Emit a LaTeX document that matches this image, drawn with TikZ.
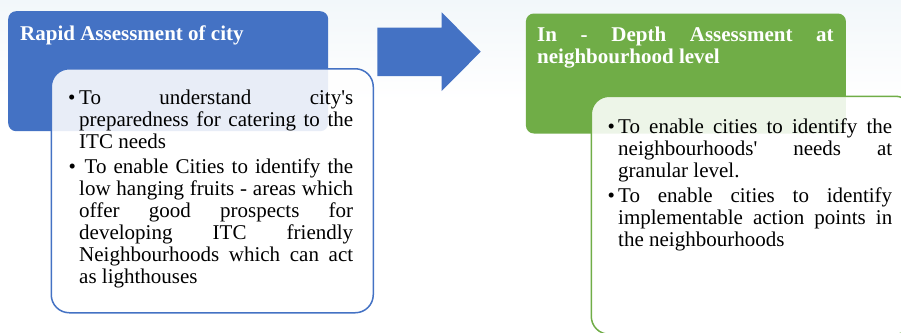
\documentclass[tikz,border=0pt]{standalone}
\usepackage{fontspec}
\newfontfamily\tnr{Liberation Serif}
\definecolor{blueA}{HTML}{4472C4}
\definecolor{greenA}{HTML}{70AD47}
\definecolor{bgtop}{RGB}{242,247,250}
\hbadness=10000
\tikzset{
  headbox/.style={anchor=north west, inner sep=0pt, rounded corners=8pt},
  listbox/.style={anchor=north west, inner sep=0pt, line width=1.5pt, fill=white, fill opacity=0.88, rounded corners=18pt},
  bodytext/.style={anchor=base west, inner sep=0pt, text=black, font=\tnr\fontsize{21}{22}\selectfont},
  titletext/.style={anchor=base west, inner sep=0pt, text=white, font=\tnr\bfseries\fontsize{21}{22}\selectfont},
}
\newcommand\jl[2]{\hbox to #1{#2}}
\begin{document}
\begin{tikzpicture}[x=1pt,y=-1pt]
\useasboundingbox (0,0) rectangle (901,332);
\clip (0,0) rectangle (901,332);
\fill[top color=bgtop, bottom color=white] (0,0) rectangle (901,100);
\fill[white] (0,100) rectangle (901,332);
% left group
\node (rapidbox) [headbox, fill=blueA, minimum width=320pt, minimum height=120pt] at (8,11) {};
\node (rapidlist) [listbox, draw=blueA, minimum width=322pt, minimum height=244pt] at (50.5,68) {};
\node (rapidtitle) [titletext] at (20,40) {Rapid Assessment of city};
\node (b1) [bodytext] at (68,104) {\textbullet};
\node (p1) [bodytext] at (79,104) {\vtop{\baselineskip=22pt
  \jl{274pt}{To understand city's}
  \jl{274pt}{preparedness for catering to the}
  \hbox{ITC needs}}};
\node (b2) [bodytext] at (68.5,173) {\textbullet};
\node (p2) [bodytext] at (79,173) {\vtop{\baselineskip=22pt
  \jl{274pt}{\kern5.5pt To enable Cities to identify the}
  \jl{274pt}{low hanging fruits - areas which}
  \jl{274pt}{offer good prospects for}
  \jl{274pt}{developing ITC friendly}
  \jl{274pt}{Neighbourhoods which can act}
  \hbox{as lighthouses}}};
% arrow
\fill[blueA] (377.3,27.7) -- (441.7,27.7) -- (441.7,12.3) -- (480.7,51.7) -- (441.7,91) -- (441.7,76) -- (377.3,76) -- cycle;
% right group
\node (depthbox) [headbox, fill=greenA, minimum width=320pt, minimum height=120pt] at (525.7,13.3) {};
\node (depthlist) [listbox, draw=greenA, minimum width=322pt, minimum height=238pt] at (590.5,95.5) {};
\node (depthtitle) [titletext] at (537,41.7) {\vtop{\baselineskip=22pt
  \jl{296.5pt}{In - Depth Assessment at}
  \hbox{neighbourhood level}}};
\node (b3) [bodytext] at (607.5,133) {\textbullet};
\node (p3) [bodytext] at (618,133) {\vtop{\baselineskip=22pt
  \jl{274pt}{To enable cities to identify the}
  \jl{274pt}{neighbourhoods' needs at}
  \hbox{granular level.}}};
\node (b4) [bodytext] at (607.5,202.5) {\textbullet};
\node (p4) [bodytext] at (618,202.5) {\vtop{\baselineskip=22pt
  \jl{274pt}{To enable cities to identify}
  \jl{274pt}{implementable action points in}
  \hbox{the neighbourhoods}}};
\end{tikzpicture}
\end{document}
